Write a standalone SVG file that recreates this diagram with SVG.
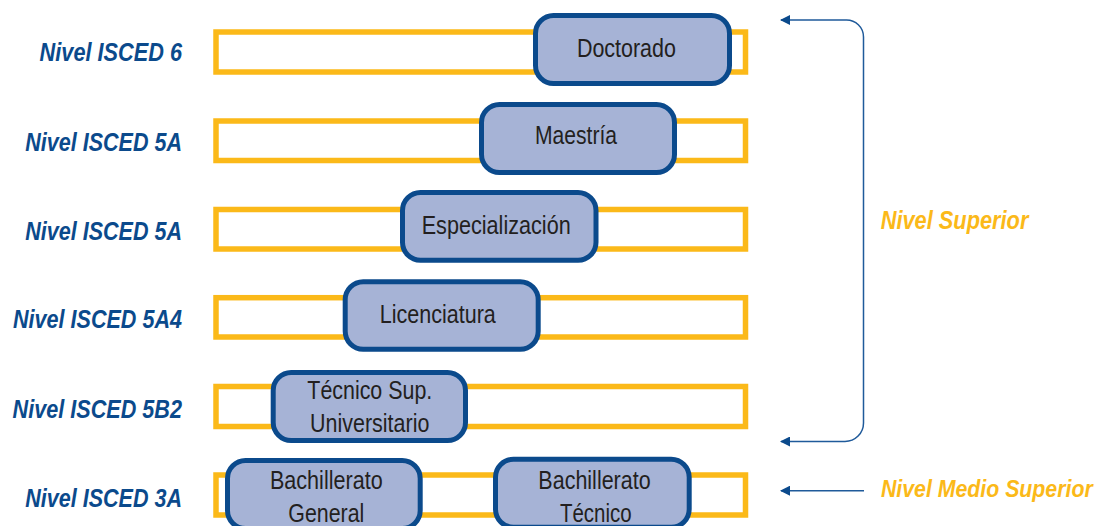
<svg xmlns="http://www.w3.org/2000/svg" width="1101" height="526" viewBox="0 0 1101 526">
<style>
.bar{fill:#ffffff;stroke:#fbb919;stroke-width:5.5}
.node rect{fill:#a6b3d6;stroke:#0b4a8c;stroke-width:5}
.node text{font-family:"Liberation Sans",Arial,sans-serif;font-size:25px;fill:#231f20;text-anchor:middle}
.lvl{font-family:"Liberation Sans",Arial,sans-serif;font-size:25px;font-weight:bold;font-style:italic;fill:#0b4a8c;text-anchor:end}
.cat{font-family:"Liberation Sans",Arial,sans-serif;font-size:25px;font-weight:bold;font-style:italic;fill:#fbb919}
.conn{fill:none;stroke:#1f5a9a;stroke-width:1.5}
</style>
<defs>
<marker id="ah" viewBox="0 0 10 10" refX="9" refY="5" markerWidth="10" markerHeight="10" markerUnits="userSpaceOnUse" orient="auto-start-reverse">
<path d="M0,0 L10,5 L0,10 z" fill="#0b4a8c"/>
</marker>
</defs>
<rect width="1101" height="526" fill="#ffffff"/>
<g id="bars">
<rect id="bar-6" class="bar" x="216" y="32" width="529.5" height="40"/>
<rect id="bar-5a-1" class="bar" x="216" y="121" width="529.5" height="39.5"/>
<rect id="bar-5a-2" class="bar" x="216" y="209.5" width="529.5" height="39.5"/>
<rect id="bar-5a4" class="bar" x="216" y="297.7" width="529.5" height="39.3"/>
<rect id="bar-5b2" class="bar" x="216" y="386.5" width="529.5" height="40"/>
<rect id="bar-3a" class="bar" x="216" y="475" width="529.5" height="40"/>
</g>
<g id="levels">
<text class="lvl" x="182" y="61" textLength="142.4" lengthAdjust="spacingAndGlyphs">Nivel ISCED 6</text>
<text class="lvl" x="182" y="151" textLength="156.7" lengthAdjust="spacingAndGlyphs">Nivel ISCED 5A</text>
<text class="lvl" x="182" y="240" textLength="156.7" lengthAdjust="spacingAndGlyphs">Nivel ISCED 5A</text>
<text class="lvl" x="182" y="328.3" textLength="169" lengthAdjust="spacingAndGlyphs">Nivel ISCED 5A4</text>
<text class="lvl" x="182" y="418.3" textLength="169.4" lengthAdjust="spacingAndGlyphs">Nivel ISCED 5B2</text>
<text class="lvl" x="182" y="506.7" textLength="156.7" lengthAdjust="spacingAndGlyphs">Nivel ISCED 3A</text>
</g>
<g id="doctorado" class="node">
<rect x="535.5" y="15.5" width="194" height="68" rx="18"/>
<text x="626.4" y="56.7" textLength="99" lengthAdjust="spacingAndGlyphs">Doctorado</text>
</g>
<g id="maestria" class="node">
<rect x="481.5" y="104.5" width="193" height="68" rx="18"/>
<text x="576" y="144.3" textLength="82" lengthAdjust="spacingAndGlyphs">Maestría</text>
</g>
<g id="especializacion" class="node">
<rect x="402.5" y="192.5" width="193.5" height="67.7" rx="18"/>
<text x="496.2" y="234" textLength="149" lengthAdjust="spacingAndGlyphs">Especialización</text>
</g>
<g id="licenciatura" class="node">
<rect x="345.2" y="281.8" width="193" height="67.5" rx="18"/>
<text x="437.8" y="322.7" textLength="116" lengthAdjust="spacingAndGlyphs">Licenciatura</text>
</g>
<g id="tecnico-sup" class="node">
<rect x="273.2" y="372.5" width="192.3" height="68" rx="18"/>
<text x="369.8" y="399.3" textLength="125" lengthAdjust="spacingAndGlyphs">Técnico Sup.</text>
<text x="369.7" y="431.7" textLength="119.3" lengthAdjust="spacingAndGlyphs">Universitario</text>
</g>
<g id="bach-general" class="node">
<rect x="227.5" y="460.5" width="192.7" height="68" rx="18"/>
<text x="326.3" y="489.3" textLength="112.7" lengthAdjust="spacingAndGlyphs">Bachillerato</text>
<text x="326.3" y="521.7" textLength="76" lengthAdjust="spacingAndGlyphs">General</text>
</g>
<g id="bach-tecnico" class="node">
<rect x="495.5" y="459.2" width="193.7" height="68" rx="18"/>
<text x="594.5" y="489.3" textLength="112.3" lengthAdjust="spacingAndGlyphs">Bachillerato</text>
<text x="595.8" y="521.7" textLength="71.7" lengthAdjust="spacingAndGlyphs">Técnico</text>
</g>
<g id="connectors">
<path class="conn" d="M781,20 H846 A17,17 0 0 1 863.5,37 V423 A18.5,18.5 0 0 1 845,441.5 H781" marker-start="url(#ah)" marker-end="url(#ah)"/>
<path class="conn" d="M864,490.7 H781" marker-end="url(#ah)"/>
</g>
<g id="categories">
<text class="cat" x="880.7" y="229" textLength="147.7" lengthAdjust="spacingAndGlyphs">Nivel Superior</text>
<text class="cat" x="0" y="0" style="font-size:21.3px" transform="translate(881,496.7) scale(1,1.16)">Nivel Medio Superior</text>
</g>
</svg>
